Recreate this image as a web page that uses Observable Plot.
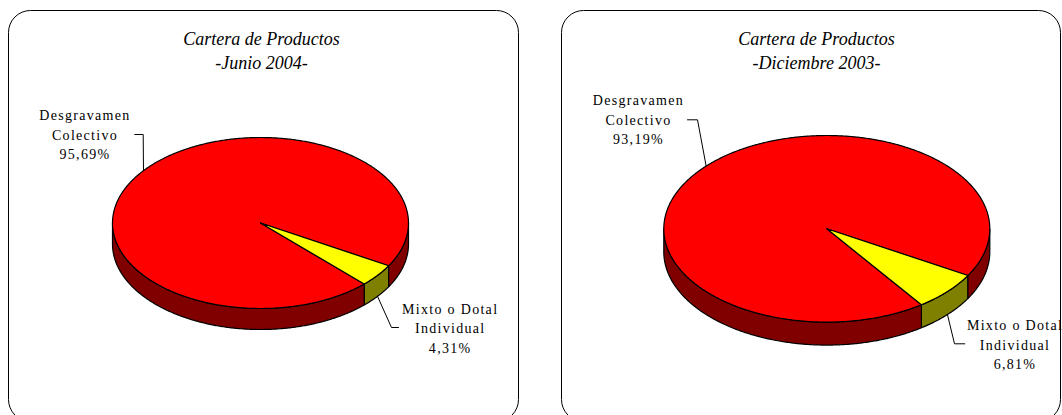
<!DOCTYPE html>
<html><head><meta charset="utf-8">
<script src="https://cdn.jsdelivr.net/npm/d3@7"></script>
<script src="https://cdn.jsdelivr.net/npm/@observablehq/plot@0.6"></script>
<style>body{margin:0;background:#fff}</style>
</head><body><div id="chart"></div>
<script>
// ---- data ----
const title = "Cartera de Productos";
const periods = ["-Junio 2004-", "-Diciembre 2003-"];
const categories = ["Desgravamen Colectivo", "Mixto o Dotal Individual"];
const categoryLines = [["Desgravamen", "Colectivo"], ["Mixto o Dotal", "Individual"]];
const junio2004 = [95.69, 4.31];
const diciembre2003 = [93.19, 6.81];

// ---- layout / style ----
const W = 1062, H = 415;
const panels = [
  {values: junio2004, period: periods[0], frame: [8.5, 10.5, 518.5, 421.5], titleX: 261,
   cx: 260, cy: 222.5, rx: 148, ry: 85.5, depth: 21,
   labels: [{x: 84.5, y: 133, elbow: [142.7, 134], end: [134.3, 134]},
            {x: 449.7, y: 326.5, elbow: [391, 327], end: [398, 327]}]},
  {values: diciembre2003, period: periods[1], frame: [561.5, 10.5, 1060.5, 421.5], titleX: 816,
   cx: 826.3, cy: 228.3, rx: 163, ry: 93.3, depth: 23,
   labels: [{x: 638, y: 118, elbow: [697, 119.3], end: [687, 119.3]},
            {x: 1014.5, y: 343, elbow: [954, 343.3], end: [964.3, 343.3]}]}
];
const topColors = ["#ff0000", "#ffff00"];
const sideColors = ["#800000", "#808000"];
const startDeg = 120; // Mixto slice begins here (clockwise from 12 o'clock)

// ---- geometry from values ----
const fmt = v => v.toFixed(2).replace(".", ",") + "%";
const P = (p, a, dy = 0) => [p.cx + p.rx * Math.sin(a), p.cy - p.ry * Math.cos(a) + dy];
function arc(p, a0, a1, dy) {
  const n = Math.max(2, Math.ceil(Math.abs(a1 - a0) / (Math.PI / 360)));
  return d3.range(n + 1).map(i => P(p, a0 + (a1 - a0) * i / n, dy));
}
const sidePts = [], topPts = [], leaderPts = [], labelRows = [], titleRows = [], frames = [];
panels.forEach((p, pi) => {
  frames.push({x1: p.frame[0], y1: p.frame[1], x2: p.frame[2], y2: p.frame[3]});
  titleRows.push({x: p.titleX, y: 27.5, text: title + "\n" + p.period});
  const s = startDeg * Math.PI / 180;
  const arcs = d3.pie().sort(null).value(i => p.values[i]).startAngle(s).endAngle(s + 2 * Math.PI)([1, 0]);
  arcs.forEach(a => {
    const ci = a.data;
    [[Math.PI / 2, 3 * Math.PI / 2], [Math.PI / 2 + 2 * Math.PI, 3 * Math.PI / 2 + 2 * Math.PI]].forEach(([f0, f1], k) => {
      const a0 = Math.max(a.startAngle, f0), a1 = Math.min(a.endAngle, f1);
      if (a1 > a0) {
        const id = `side-${pi}-${ci}-${k}`;
        const pts = arc(p, a0, a1, 0).concat(arc(p, a1, a0, p.depth));
        pts.push(pts[0]);
        pts.forEach(([x, y]) => sidePts.push({id, x, y, fill: sideColors[ci]}));
      }
    });
    const id = `top-${pi}-${ci}`;
    const pts = [[p.cx, p.cy]].concat(arc(p, a.startAngle, a.endAngle, 0), [[p.cx, p.cy]]);
    pts.forEach(([x, y]) => topPts.push({id, x, y, fill: topColors[ci], order: ci === 0 ? 0 : 1}));
    const m = (a.startAngle + a.endAngle) / 2;
    const anchor = Math.cos(m) < 0 ? P(p, m, p.depth) : P(p, m, 0);
    const L = p.labels[ci];
    [anchor, L.elbow, L.end].forEach(([x, y]) => leaderPts.push({id: `lead-${pi}-${ci}`, x, y}));
    labelRows.push({x: L.x, y: L.y, text: categoryLines[ci].join("\n") + "\n" + fmt(p.values[ci])});
  });
});
topPts.sort((a, b) => a.order - b.order);

const chart = Plot.plot({
  width: W, height: H, margin: 0,
  x: {type: "identity", axis: null},
  y: {type: "identity", axis: null},
  color: {type: "identity"},
  marks: [
    Plot.rect(frames, {x1: "x1", x2: "x2", y1: "y1", y2: "y2", rx: 22, fill: "white", stroke: "black", strokeWidth: 1}),
    Plot.line(sidePts, {x: "x", y: "y", z: "id", fill: "fill", stroke: "black", strokeWidth: 1.2, curve: "linear"}),
    Plot.line(topPts, {x: "x", y: "y", z: "id", fill: "fill", stroke: "black", strokeWidth: 1.2, curve: "linear"}),
    Plot.line(leaderPts, {x: "x", y: "y", z: "id", stroke: "black", strokeWidth: 1, curve: "linear"}),
    Plot.text(titleRows, {x: "x", y: "y", text: "text", fontFamily: "Liberation Serif", fontStyle: "italic",
      fontSize: 18, lineAnchor: "top", lineHeight: 1.33, fill: "black"}),
    Plot.text(labelRows, {x: "x", y: "y", text: "text", fontFamily: "Liberation Serif", fontSize: 14,
      lineHeight: 1.4, fill: "black"})
  ]
});
const textGroups = chart.querySelectorAll('g[aria-label="text"]');
const labelGroup = textGroups[textGroups.length - 1];
if (labelGroup) labelGroup.style.letterSpacing = "1.3px";
document.getElementById("chart").appendChild(chart);
</script>
</body></html>
